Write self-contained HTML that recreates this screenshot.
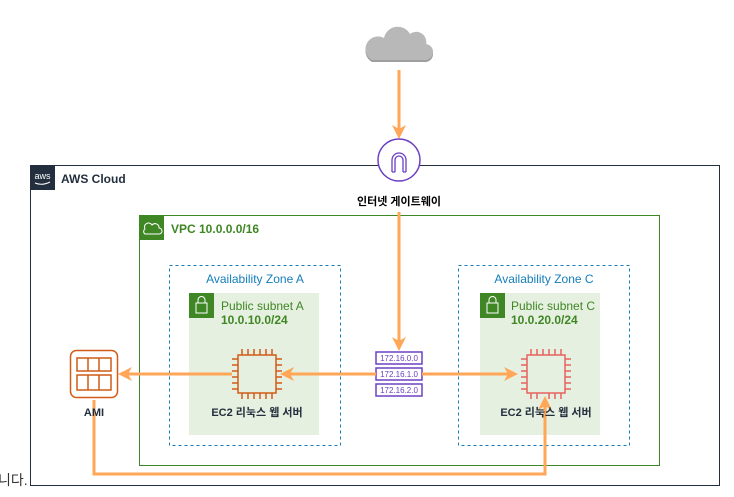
<!DOCTYPE html>
<html><head><meta charset="utf-8"><style>
body{margin:0;width:734px;height:492px;background:#fff;overflow:hidden;font-family:"Liberation Sans","Noto Sans CJK KR",sans-serif;}
svg text{font-family:"Liberation Sans","Noto Sans CJK KR",sans-serif;}
</style></head><body>
<svg width="734" height="492" viewBox="0 0 734 492" xmlns="http://www.w3.org/2000/svg">
<defs>
<marker id="ah" markerWidth="14" markerHeight="14" refX="11" refY="7" orient="auto" markerUnits="userSpaceOnUse"><path d="M0,0 L14,7 L0,14 L4,7 Z" fill="#ffa657"/></marker>
</defs>
<rect x="30.5" y="165.5" width="689" height="320" fill="none" stroke="#232f3e" stroke-width="1"/>
<rect x="30" y="165" width="25" height="25" fill="#232f3e"/>
<text x="42.5" y="179" font-size="9" fill="#fff" text-anchor="middle">aws</text>
<path d="M35 183 Q42 186 50 182" stroke="#fff" fill="none" stroke-width="1"/>
<text x="61" y="183" font-size="12" font-weight="bold" fill="#232f3e">AWS Cloud</text>
<rect x="139.5" y="215.5" width="520" height="250" fill="none" stroke="#3f8624"/>
<rect x="139" y="215" width="25" height="25" fill="#3f8624"/>
<path d="M145 234 h14 a3 3 0 0 0 0-6 a4 4 0 0 0-7-3 a4 4 0 0 0-7 4 a3 3 0 0 0 0 5z" fill="none" stroke="#fff"/>
<text x="171" y="233" font-size="12" font-weight="bold" fill="#3f8624">VPC 10.0.0.0/16</text>
<rect x="169.5" y="265.5" width="171" height="180" fill="none" stroke="#147eba" stroke-dasharray="3,3"/>
<rect x="458.5" y="265.5" width="171" height="180" fill="none" stroke="#147eba" stroke-dasharray="3,3"/>
<text x="255" y="283" font-size="12" fill="#147eba" text-anchor="middle">Availability Zone A</text>
<text x="544" y="283" font-size="12" fill="#147eba" text-anchor="middle">Availability Zone C</text>
<rect x="189" y="293" width="130" height="142" fill="#e6f0e0"/>
<rect x="480" y="293" width="120" height="142" fill="#e6f0e0"/>
<rect x="189" y="293" width="25" height="25" fill="#3f8624"/>
<rect x="480" y="293" width="25" height="25" fill="#3f8624"/>
<g fill="none" stroke="#fff"><rect x="196" y="303" width="11" height="10"/><path d="M198 303 v-3 a3.5 3.5 0 0 1 7 0 v3"/>
<rect x="487" y="303" width="11" height="10"/><path d="M489 303 v-3 a3.5 3.5 0 0 1 7 0 v3"/></g>
<text x="221" y="310" font-size="12" fill="#3f8624">Public subnet A</text>
<text x="221" y="324" font-size="12" font-weight="bold" fill="#3f8624">10.0.10.0/24</text>
<text x="511" y="310" font-size="12" fill="#3f8624">Public subnet C</text>
<text x="511" y="324" font-size="12" font-weight="bold" fill="#3f8624">10.0.20.0/24</text>
<path d="M372 62 h52 a8 8 0 0 0 2-16 a10 10 0 0 0-16-10 a14 14 0 0 0-26 4 a10 10 0 0 0-12 22z" fill="#9e9e9e"/>
<path d="M372 60 h52 a8 8 0 0 0 2-16 a10 10 0 0 0-16-10 a14 14 0 0 0-26 4 a10 10 0 0 0-12 22z" fill="#b8b8b8"/>
<line x1="399" y1="70" x2="399" y2="136" stroke="#ffa657" stroke-width="3" marker-end="url(#ah)"/>
<circle cx="399" cy="160" r="21" fill="#fff" stroke="#6b40c4" stroke-width="1.5"/>
<path d="M392 172 v-12 a7 7 0 0 1 14 0 v12 M395 172 v-12 a4 4 0 0 1 8 0 v12 M392 172h3 M403 172h3" fill="none" stroke="#6b40c4" stroke-width="1.3"/>
<text x="399" y="205" font-size="11" font-weight="bold" fill="#000" text-anchor="middle">인터넷 게이트웨이</text>
<line x1="399" y1="212" x2="399" y2="348" stroke="#ffa657" stroke-width="3" marker-end="url(#ah)"/>
<g fill="#fff" stroke="#6b40c4" stroke-width="1.5">
<rect x="376" y="352" width="46" height="12"/><rect x="376" y="368" width="46" height="12"/><rect x="376" y="384" width="46" height="12"/></g>
<g font-size="8" fill="#6b40c4" text-anchor="middle"><text x="399" y="361">172.16.0.0</text><text x="399" y="377">172.16.1.0</text><text x="399" y="393">172.16.2.0</text></g>
<line x1="376" y1="374" x2="283" y2="374" stroke="#ffa657" stroke-width="3" marker-end="url(#ah)"/>
<line x1="422" y1="374" x2="515" y2="374" stroke="#ffa657" stroke-width="3" marker-end="url(#ah)"/>
<line x1="232" y1="374" x2="121" y2="374" stroke="#ffa657" stroke-width="3" marker-end="url(#ah)"/>
<polyline points="94,400 94,474 545,474 545,399" fill="none" stroke="#ffa657" stroke-width="3" marker-end="url(#ah)"/>
<g stroke="#d05c17" stroke-width="1.5" fill="none">
<rect x="238" y="355" width="38" height="38"/>
<path d="M242 355v-6M248 355v-6M254 355v-6M260 355v-6M266 355v-6M272 355v-6 M242 393v6M248 393v6M254 393v6M260 393v6M266 393v6M272 393v6 M238 359h-6M238 365h-6M238 371h-6M238 377h-6M238 383h-6M238 389h-6 M276 359h6M276 365h6M276 371h6M276 377h6M276 383h6M276 389h6"/></g>
<g stroke="#e7625f" stroke-width="1.5" fill="none">
<rect x="527" y="355" width="38" height="38"/>
<path d="M531 355v-6M537 355v-6M543 355v-6M549 355v-6M555 355v-6M561 355v-6 M531 393v6M537 393v6M549 393v6M555 393v6M561 393v6 M527 359h-6M527 365h-6M527 371h-6M527 377h-6M527 383h-6M527 389h-6 M565 359h6M565 365h6M565 371h6M565 377h6M565 383h6M565 389h6"/></g>
<text x="257" y="416" font-size="11" font-weight="bold" fill="#232f3e" text-anchor="middle">EC2 리눅스 웹 서버</text>
<text x="546" y="416" font-size="11" font-weight="bold" fill="#232f3e" text-anchor="middle">EC2 리눅스 웹 서버</text>
<rect x="70.5" y="350.5" width="47" height="47" rx="6" fill="#fff" stroke="#d05c17" stroke-width="1.5"/>
<g fill="none" stroke="#d05c17" stroke-width="1.5"><rect x="77" y="358" width="34" height="13"/><path d="M88 358v13M99 358v13"/><rect x="77" y="375" width="34" height="15"/><path d="M88 375v15M99 375v15"/></g>
<text x="94" y="416" font-size="11" font-weight="bold" fill="#232f3e" text-anchor="middle">AMI</text>
<text x="-2" y="485" font-size="14" fill="#333">니다.</text>
</svg>
</body></html>
